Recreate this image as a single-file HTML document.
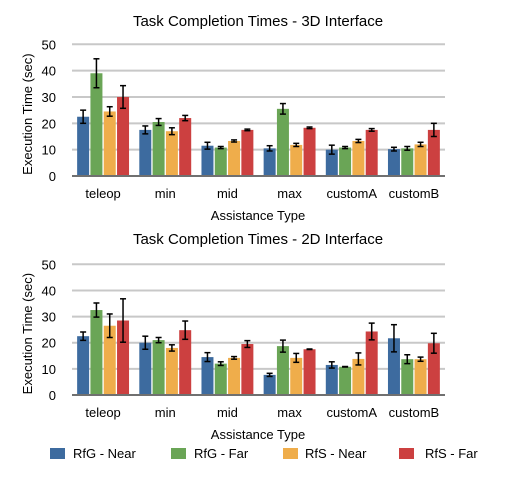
<!DOCTYPE html>
<html><head><meta charset="utf-8"><style>
html,body{margin:0;padding:0;background:#fff;}
svg{display:block;font-family:"Liberation Sans",Arial,sans-serif;}
</style></head><body>
<svg id="c" width="524" height="489" viewBox="0 0 524 489"></svg>
<script>
const categories = ["teleop","min","mid","max","customA","customB"];
const seriesNames = ["RfG - Near","RfG - Far","RfS - Near","RfS - Far"];
const colors = ["#3d6b9f","#6aa556","#efad4b","#cc4040"];
const yTicks = [0,10,20,30,40,50];
const mean3D_rfgNear = [22.5,17.5,11.5,10.5,10,10.2];
const mean3D_rfgFar  = [39,20.5,10.8,25.5,10.8,10.5];
const mean3D_rfsNear = [24.5,17,13.3,11.8,13.3,12];
const mean3D_rfsFar  = [30,22,17.5,18.3,17.5,17.5];
const err3D_rfgNear = [2.5,1.5,1.3,1,1.7,0.7];
const err3D_rfgFar  = [5.5,1.3,0.4,2,0.4,0.7];
const err3D_rfsNear = [1.8,1.3,0.4,0.6,0.6,0.8];
const err3D_rfsFar  = [4.3,1,0.3,0.3,0.5,2.5];
const mean2D_rfgNear = [22.5,20,14.5,7.7,11.5,21.7];
const mean2D_rfgFar  = [32.5,21,12,18.7,10.8,13.7];
const mean2D_rfsNear = [26.5,18,14.2,14.2,13.8,13.7];
const mean2D_rfsFar  = [28.5,24.8,19.5,17.5,24.3,19.8];
const err2D_rfgNear = [1.6,2.5,1.7,0.6,1.2,5.2];
const err2D_rfgFar  = [2.7,1,0.7,2.3,0.1,1.7];
const err2D_rfsNear = [4.5,1.2,0.5,1.7,2.3,0.8];
const err2D_rfsFar  = [8.3,3.5,1.3,0.1,3.2,3.8];

const svg = document.getElementById('c');
const NS = 'http://www.w3.org/2000/svg';
function mk(tag, attrs, parent){
  const e = document.createElementNS(NS, tag);
  for (const k in attrs) e.setAttribute(k, attrs[k]);
  (parent||svg).appendChild(e); return e;
}
function txt(x,y,s,size,anchor,parent,extra){
  const t = mk('text',Object.assign({x:x,y:y,'font-size':size,'text-anchor':anchor||'middle',fill:'#000'},extra||{}),parent);
  t.textContent = s; return t;
}

function drawChart(key, title, top, y0, y50, means, errs){
  const g = mk('g',{});
  
  
  const x0 = 72, x1 = 445;
  const yS = v => y0 - (y0 - y50) * v / 50;
  const groupW = (x1 - x0) / categories.length;
  const barW = 12, gap = 1.3, pad = (groupW - (4*barW + 3*gap)) / 2;
  const xS = (ci, si) => x0 + ci*groupW + pad + si*(barW+gap);

  const tt = txt(258, top+6, title, 15, 'middle', g);
  
  

  yTicks.forEach(v => {
    const y = yS(v);
    if (v > 0) {
      const gl = mk('line',{x1:x0,x2:x1,y1:y,y2:y,stroke:'#c8c8c8','stroke-width':2},g);
      
      
    }
    const tl = txt(56, y+5, String(v), 13, 'end', g);
    
    
  });

  categories.forEach((c, ci) => {
    for (let si=0; si<4; si++){
      const v = means[si][ci], e = errs[si][ci];
      const x = xS(ci, si);
      const r = mk('rect',{x:x,y:yS(v),width:barW,height:yS(0)-yS(v),fill:colors[si]},g);
      
      
      const cx = x + barW/2, yt = yS(v+e), yb = yS(v-e);
      const eg = mk('g',{stroke:'#000','stroke-width':1.5},g);
      
      
      mk('line',{x1:cx,x2:cx,y1:yt,y2:yb},eg);
      mk('line',{x1:cx-3,x2:cx+3,y1:yt,y2:yt},eg);
      mk('line',{x1:cx-3,x2:cx+3,y1:yb,y2:yb},eg);
    }
    const cl = txt(x0 + ci*groupW + groupW/2, y0+22, c, 13, 'middle', g);
    
    
  });

  const base = mk('line',{x1:x0,x2:x1,y1:y0,y2:y0,stroke:'#707070','stroke-width':2},g);
  
  

  const xt = txt(258, y0+44, 'Assistance Type', 13, 'middle', g);
  
  
  const ym = (y0+y50)/2 + 4;
  const yt = txt(32, ym, 'Execution Time (sec)', 13, 'middle', g, {transform:'rotate(-90 32 '+ym+')'});
  
  
}

drawChart('chart-3d','Task Completion Times - 3D Interface', 20, 176, 44.3,
  [mean3D_rfgNear,mean3D_rfgFar,mean3D_rfsNear,mean3D_rfsFar],
  [err3D_rfgNear,err3D_rfgFar,err3D_rfsNear,err3D_rfsFar]);
drawChart('chart-2d','Task Completion Times - 2D Interface', 238, 395, 264.3,
  [mean2D_rfgNear,mean2D_rfgFar,mean2D_rfsNear,mean2D_rfsFar],
  [err2D_rfgNear,err2D_rfgFar,err2D_rfsNear,err2D_rfsFar]);

const legendSq = [50,171,283,399];
const legendTx = [73,194,305,425];
const lg = mk('g',{});


seriesNames.forEach((n,i)=>{
  const eg = mk('g',{},lg);
  
  
  mk('rect',{x:legendSq[i],y:448,width:15,height:11,fill:colors[i]},eg);
  txt(legendTx[i],458,n,13,'start',eg);
});
</script>
</body></html>
